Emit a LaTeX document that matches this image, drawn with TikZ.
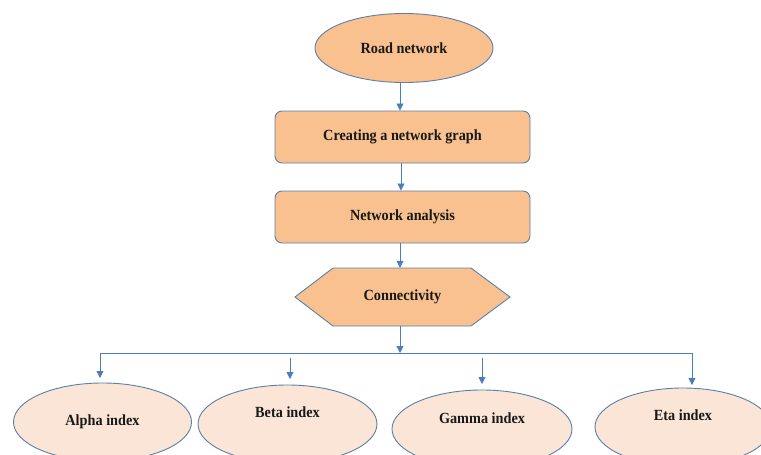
\documentclass[tikz,border=0pt]{standalone}
\usepackage{fontspec}
\setmainfont{Liberation Serif}[FakeStretch=0.92]
\usetikzlibrary{shapes.geometric,arrows.meta}
\definecolor{orfill}{HTML}{F8C18F}
\definecolor{ltfill}{HTML}{FBE5D6}
\definecolor{bord}{HTML}{5A7FA8}
\definecolor{arrc}{HTML}{4A7EBB}
\tikzset{
  lbl/.style={font=\fontsize{15.5}{17}\selectfont\bfseries, text=black!90},
  oval/.style={ellipse, draw=bord, line width=0.9pt, inner sep=0pt},
  stepbox/.style={rectangle, rounded corners=7pt, draw=bord, line width=0.9pt, fill=orfill,
    minimum width=255pt, minimum height=52pt, inner sep=0pt, lbl},
  conn/.style={draw=arrc, line width=0.8pt},
  arr/.style={conn, -{Triangle[width=7pt,length=7pt]}}
}
\begin{document}
\begin{tikzpicture}[x=1pt,y=-1pt]
\useasboundingbox (0,0) rectangle (761,455);
\clip (0,0) rectangle (761,455);
\node[oval, fill=orfill, minimum width=178pt, minimum height=69pt, lbl] (road) at (404,48) {Road network};
\node[stepbox] (graph) at (402.5,137) {Creating a network graph};
\node[stepbox] (anal) at (402.5,217) {Network analysis};
\fill[orfill] (295,297) -- (333,268) -- (471,268) -- (510,297) -- (471,326) -- (333,326) -- cycle;
\draw[bord, line width=0.9pt] (295,297) -- (333,268) -- (471,268) -- (510,297) -- (471,326) -- (333,326) -- cycle;
\node[lbl, minimum width=216pt, minimum height=58pt, inner sep=0pt] (conn) at (402.5,297) {Connectivity};
\coordinate (hub) at (400,353);
% bottom ellipses
\node[oval, fill=ltfill, minimum width=178pt, minimum height=78pt] (alpha) at (102.5,422) {};
\node[lbl] (alphat) at (102.5,422) {Alpha index};
\node[oval, fill=ltfill, minimum width=179pt, minimum height=78pt] (beta) at (287.5,424) {};
\node[lbl] (betat) at (287.5,412) {Beta index};
\node[oval, fill=ltfill, minimum width=180pt, minimum height=78pt] (gamma) at (482,429) {};
\node[lbl] (gammat) at (482,418) {Gamma index};
\node[oval, fill=ltfill, minimum width=176pt, minimum height=78pt] (eta) at (683,427) {};
\node[lbl] (etat) at (683,415) {Eta index};
\coordinate (alphatop) at (100,378);
\coordinate (betatop) at (290,379);
\coordinate (gammatop) at (482,384);
\coordinate (etatop) at (692,385);
% connectors
\draw[arr] (road.south -| 400,0) -- (400,0 |- graph.north);
\draw[arr] (graph.south -| 401,0) -- (401,0 |- anal.north);
\draw[arr] (anal.south -| 400,0) -- (conn.north -| 400,0);
\draw[arr] (conn.south -| 400,0) -- (hub);
\draw[arr] (hub) -| (alphatop);
\draw[arr] (hub) -| (etatop);
\draw[arr] (betatop |- hub) ++(0,5) -- (betatop);
\draw[arr] (gammatop |- hub) ++(0,5) -- (gammatop);
\end{tikzpicture}
\end{document}
